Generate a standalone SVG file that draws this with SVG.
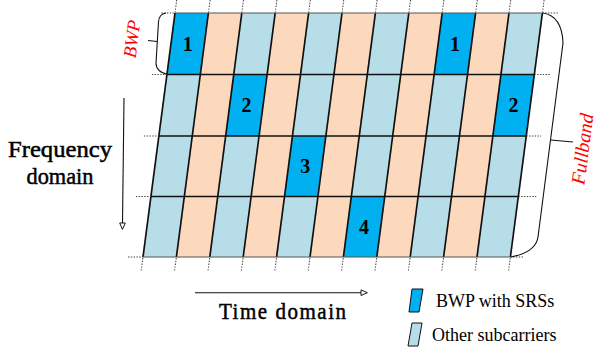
<svg xmlns="http://www.w3.org/2000/svg" width="597" height="354" viewBox="0 0 597 354">
  <style>
    .cell-b { fill: #00B0F0; }
    .grid-col { stroke: #111; stroke-width: 1.7; }
    .grid-row { stroke: #111; stroke-width: 1.6; }
    .edge { stroke: #555; stroke-width: 1; }
    .dot { stroke: #444; stroke-width: 1; stroke-dasharray: 1.4 1.4; fill: none; }
    .brace { stroke: #111; stroke-width: 1.1; fill: none; }
    .num { font-family: "Liberation Serif", serif; font-weight: bold; font-size: 20px; text-anchor: middle; fill: #000; }
    .red { font-family: "Liberation Serif", serif; font-style: italic; fill: #FF0000; text-anchor: middle; }
    .axis-label { font-family: "Liberation Serif", serif; font-size: 21px; text-anchor: middle; fill: #000; stroke: #000; stroke-width: 0.45; }
    .legend { font-family: "Liberation Serif", serif; font-size: 18px; fill: #000; }
    .axis { stroke: #111; stroke-width: 1.1; fill: none; }
  </style>
  <defs>
    <!-- alternating light blue / peach subcarrier columns -->
    <pattern id="stripes" patternUnits="userSpaceOnUse" x="176.705" y="0" width="66.8" height="354">
      <rect x="0" y="0" width="33.4" height="354" fill="#B7DEE8"/>
      <rect x="33.4" y="0" width="33.4" height="354" fill="#FCD9BD"/>
    </pattern>
    <marker id="hollow" viewBox="0 0 10 10" refX="1" refY="5" markerWidth="8" markerHeight="8" markerUnits="userSpaceOnUse" orient="auto">
      <path d="M1,1.5 L9,5 L1,8.5 Z" fill="#fff" stroke="#111" stroke-width="1.2"/>
    </marker>
  </defs>

  <!-- time/frequency resource grid, slanted -->
  <g id="grid" transform="matrix(1,0,-0.13115,1,0,0)">
    <rect x="176.705" y="13" width="367.4" height="244" fill="url(#stripes)"/>
    <g id="srs-cells">
      <rect class="cell-b" x="176.7" y="13" width="33.4" height="61.5"/>
      <rect class="cell-b" x="443.9" y="13" width="33.4" height="61.5"/>
      <rect class="cell-b" x="243.5" y="74.5" width="33.4" height="61.5"/>
      <rect class="cell-b" x="510.7" y="74.5" width="33.4" height="61.5"/>
      <rect class="cell-b" x="310.3" y="136" width="33.4" height="60.5"/>
      <rect class="cell-b" x="377.1" y="196.5" width="33.4" height="60.5"/>
    </g>
    <!-- column boundaries -->
    <g class="grid-col">
      <line x1="176.7" y1="13" x2="176.7" y2="257"/>
      <line x1="210.1" y1="13" x2="210.1" y2="257"/>
      <line x1="243.5" y1="13" x2="243.5" y2="257"/>
      <line x1="276.9" y1="13" x2="276.9" y2="257"/>
      <line x1="310.3" y1="13" x2="310.3" y2="257"/>
      <line x1="343.7" y1="13" x2="343.7" y2="257"/>
      <line x1="377.1" y1="13" x2="377.1" y2="257"/>
      <line x1="410.5" y1="13" x2="410.5" y2="257"/>
      <line x1="443.9" y1="13" x2="443.9" y2="257"/>
      <line x1="477.3" y1="13" x2="477.3" y2="257"/>
      <line x1="510.7" y1="13" x2="510.7" y2="257"/>
      <line x1="544.1" y1="13" x2="544.1" y2="257"/>
    </g>
    <!-- row boundaries -->
    <line class="edge" x1="176.7" y1="13" x2="544.1" y2="13"/>
    <g class="grid-row">
      <line x1="176.7" y1="74.5" x2="544.1" y2="74.5"/>
      <line x1="176.7" y1="136" x2="544.1" y2="136"/>
      <line x1="176.7" y1="196.5" x2="544.1" y2="196.5"/>
    </g>
    <line class="edge" x1="176.7" y1="257" x2="544.1" y2="257" stroke="#222" stroke-width="1.4"/>
    <!-- dotted extensions -->
    <g class="dot">
      <path d="M176.7,0V13M210.1,0V13M243.5,0V13M276.9,0V13M310.3,0V13M343.7,0V13M377.1,0V13M410.5,0V13M443.9,0V13M477.3,0V13M510.7,0V13M544.1,0V13"/>
      <path d="M176.7,258V272M210.1,258V272M243.5,258V272M276.9,258V272M310.3,258V272M343.7,258V272M377.1,258V272M410.5,258V272M443.9,258V272M477.3,258V272M510.7,258V272M544.1,258V272"/>
      <path d="M163,13H176.7M161.7,74.5H176.7M161.7,136H176.7M161.7,196.5H176.7M161.7,257H176.7"/>
      <path d="M544.1,13H560M544.1,74.5H560M544.1,136H559M544.1,196.5H562M544.1,257H558"/>
    </g>
  </g>

  <!-- cell indices -->
  <g id="labels">
    <text class="num" x="187.7" y="50.7">1</text>
    <text class="num" x="454.9" y="50.7">1</text>
    <text class="num" x="246.4" y="112.2">2</text>
    <text class="num" x="513.6" y="112.2">2</text>
    <text class="num" x="305.2" y="173.2">3</text>
    <text class="num" x="364.1" y="233.7">4</text>
  </g>

  <!-- BWP brace -->
  <g id="bwp">
    <path class="brace" d="M166,13 Q159,14 158.5,22 L156,63 Q156,72 168,74.5"/>
    <path class="brace" d="M148,40.5 L157,41.5"/>
    <text class="red" font-size="18.5" transform="translate(132,39) rotate(-83)" x="0" y="6">BWP</text>
  </g>

  <!-- Fullband brace -->
  <g id="fullband">
    <path class="brace" d="M543,13 Q562,16 563,43 L538,237 Q536,252 511,257"/>
    <path class="brace" d="M551,140 L573,142"/>
    <text class="red" font-size="19.5" transform="translate(583,149) rotate(-82.6)" x="0" y="6">Fullband</text>
  </g>

  <!-- axes -->
  <g id="freq-axis">
    <line class="axis" x1="124" y1="98" x2="122.5" y2="223" marker-end="url(#hollow)"/>
    <text class="axis-label" transform="translate(60,157) scale(1,1.08)" textLength="104" lengthAdjust="spacingAndGlyphs">Frequency</text>
    <text class="axis-label" transform="translate(60,184) scale(1,1.08)" textLength="67" lengthAdjust="spacingAndGlyphs">domain</text>
  </g>
  <g id="time-axis">
    <line class="axis" x1="195" y1="292.7" x2="361" y2="292.7" marker-end="url(#hollow)"/>
    <text class="axis-label" transform="translate(282.5,319) scale(1,1.08)" textLength="127" lengthAdjust="spacing">Time domain</text>
  </g>

  <!-- legend -->
  <g id="legend-srs">
    <polygon points="412,289 423,289 419,312 409,312" fill="#00B0F0" stroke="#111" stroke-width="1"/>
    <text class="legend" x="436" y="307">BWP with SRSs</text>
  </g>
  <g id="legend-other">
    <polygon points="412,323 422,323 418,346 408,346" fill="#B7DEE8" stroke="#111" stroke-width="1"/>
    <text class="legend" x="432" y="341">Other subcarriers</text>
  </g>
</svg>
